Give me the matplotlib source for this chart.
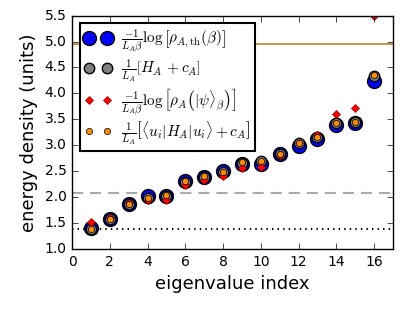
import matplotlib
matplotlib.use('Agg')
import matplotlib.pyplot as plt
import numpy as np

plt.style.use('classic')

idx = np.arange(1, 17)
thermal = [1.41, 1.58, 1.86, 2.02, 2.02, 2.31, 2.38, 2.51, 2.63, 2.64, 2.83, 2.99, 3.13, 3.40, 3.42, 4.24]
ent_ham = [1.39, 1.58, 1.86, 1.99, 2.03, 2.30, 2.39, 2.49, 2.66, 2.69, 2.83, 3.04, 3.15, 3.42, 3.44, 4.34]
ent_spec = [1.52, 1.60, 1.88, 1.95, 1.95, 2.23, 2.33, 2.41, 2.57, 2.58, 2.82, 3.05, 3.19, 3.60, 3.72, 5.50]
ui_exp = [1.39, 1.58, 1.86, 1.98, 2.04, 2.31, 2.40, 2.48, 2.67, 2.70, 2.83, 3.05, 3.15, 3.42, 3.44, 4.35]

e_upper = 4.96
e_beta = 2.08
e_ground = 1.39

fig = plt.figure(figsize=(4.15, 3.12), dpi=100)
ax = fig.add_axes([0.1735, 0.202, 0.7735, 0.748])

ax.axhline(e_upper, color='#b5852b', lw=1.2)
ax.axhline(e_beta, color='#aaaaaa', ls='--', dashes=(8, 5), lw=1.5)
ax.axhline(e_ground, color='k', ls=':', lw=1.5)

ax.plot(idx, thermal, 'o', color='blue', mec='k', ms=10, mew=1,
        label=r'$\frac{-1}{L_A\beta}\log\left[\rho_{A,\mathrm{th}}(\beta)\right]$')
ax.plot(idx, ent_ham, 'o', color='gray', mec='k', ms=7.5, mew=1,
        label=r'$\frac{1}{L_A}\left[H_A\,+c_A\right]$')
ax.plot(idx, ent_spec, 'D', color='red', mec='darkred', ms=4.5, mew=0.5,
        label=r'$\frac{-1}{L_A\beta}\log\left[\rho_A\left(|\psi\rangle_\beta\right)\right]$')
ax.plot(idx, ui_exp, 'o', color='darkorange', mec='k', ms=4.5, mew=0.5,
        label=r'$\frac{1}{L_A}\left[\langle u_i|H_A|u_i\rangle+c_A\right]$')

ax.set_xlim(0, 17)
ax.set_ylim(1.0, 5.5)
ax.set_xticks(np.arange(0, 17, 2))
ax.set_yticks(np.arange(1.0, 5.51, 0.5))
ax.tick_params(labelsize=10)
ax.set_xlabel('eigenvalue index', fontsize=13)
ax.set_ylabel('energy density (units)', fontsize=13)

leg = ax.legend(loc='upper left', numpoints=2, fontsize=11, frameon=True,
                fancybox=False, borderaxespad=0.5, labelspacing=0.15,
                handlelength=1.8, handletextpad=0.6, borderpad=0.3)
leg.get_frame().set_edgecolor('k')
leg.get_frame().set_linewidth(1.5)

fig.savefig('out.png', dpi=100)
